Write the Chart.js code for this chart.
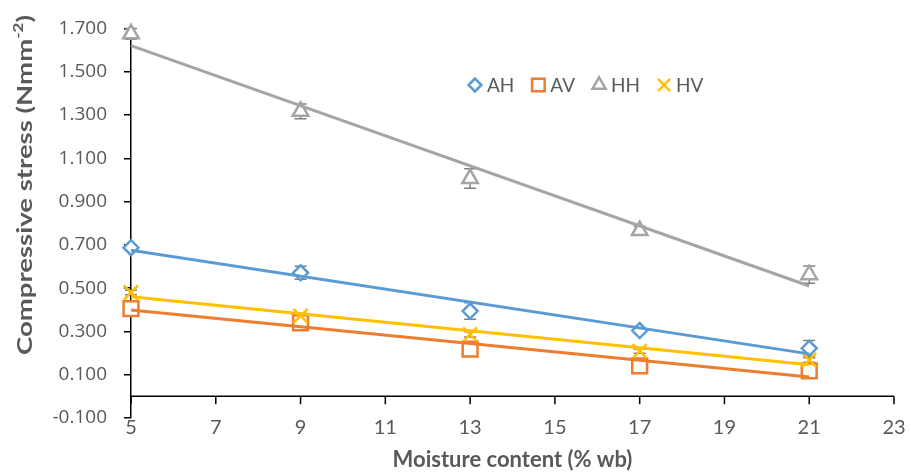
<!DOCTYPE html>
<html>
<head>
<meta charset="utf-8">
<script src="https://cdn.jsdelivr.net/npm/chart.js@4.4.1/dist/chart.umd.min.js"></script>
<style>
  html, body { margin: 0; padding: 0; background: #ffffff; }
  #wrap { width: 911px; height: 472px; }
</style>
</head>
<body>
<div id="wrap"><canvas id="chart" width="911" height="472"></canvas></div>
<script>
// Moisture content levels (% wb)
const moisture = [5, 9, 13, 17, 21];

// Mean compressive stress (N mm^-2) for each loading case
const AH = [0.687, 0.571, 0.394, 0.304, 0.222];
const AV = [0.405, 0.340, 0.218, 0.141, 0.118];
const HH = [1.675, 1.317, 1.006, 0.766, 0.562];
const HV = [0.480, 0.372, 0.286, 0.209, 0.168];

// Standard error of each mean
const AH_err = [0.010, 0.030, 0.038, 0.012, 0.036];
const AV_err = [0.010, 0.012, 0.015, 0.010, 0.010];
const HH_err = [0.025, 0.034, 0.045, 0.020, 0.040];
const HV_err = [0.010, 0.012, 0.012, 0.010, 0.010];

// Axis tick values
const xTickValues = [5, 7, 9, 11, 13, 15, 17, 19, 21, 23];
const yTickValues = [-0.1, 0.1, 0.3, 0.5, 0.7, 0.9, 1.1, 1.3, 1.5, 1.7];

const xTitle = 'Moisture content (% wb)';
const yTitleMain = 'Compressive stress (Nmm';
const yTitleSup = '-2';
const yTitleEnd = ')';

const TEXT = '#595959';
const FONT = "Lato, 'Open Sans', 'Noto Sans', sans-serif";

const series = [
  { name: 'AH', values: AH, err: AH_err, color: '#5B9BD5', style: 'rectRot', radius: 7.5 },
  { name: 'AV', values: AV, err: AV_err, color: '#ED7D31', style: 'rect', radius: 10.5 },
  { name: 'HH', values: HH, err: HH_err, color: '#A5A5A5', style: 'triangle', radius: 9 },
  { name: 'HV', values: HV, err: HV_err, color: '#FFC000', style: 'crossRot', radius: 10 }
];

// Least-squares straight line through a series
function linearFit(xs, ys) {
  const n = xs.length;
  const mx = xs.reduce((a, b) => a + b, 0) / n;
  const my = ys.reduce((a, b) => a + b, 0) / n;
  let sxy = 0, sxx = 0;
  for (let i = 0; i < n; i++) {
    sxy += (xs[i] - mx) * (ys[i] - my);
    sxx += (xs[i] - mx) * (xs[i] - mx);
  }
  const slope = sxy / sxx;
  return x => my + slope * (x - mx);
}

const datasets = [];
series.forEach((s, i) => {
  datasets.push({
    type: 'scatter',
    label: s.name,
    data: moisture.map((x, j) => ({ x: x, y: s.values[j] })),
    pointStyle: s.style,
    pointRadius: s.radius,
    pointHoverRadius: s.radius,
    pointBorderWidth: 2.5,
    pointBorderColor: s.color,
    pointBackgroundColor: s.style === 'crossRot' ? s.color : '#ffffff',
    borderColor: s.color,
    backgroundColor: s.color,
    showLine: false,
    clip: false,
    order: 10 - i
  });
});
series.forEach((s, i) => {
  const f = linearFit(moisture, s.values);
  const x0 = moisture[0], x1 = moisture[moisture.length - 1];
  datasets.push({
    type: 'line',
    label: s.name + ' trend',
    data: [{ x: x0, y: f(x0) }, { x: x1, y: f(x1) }],
    borderColor: s.color,
    borderWidth: 3,
    pointRadius: 0,
    fill: false,
    clip: false,
    order: 4 - i
  });
});

// Error bars beneath the markers
const errorBars = {
  id: 'errorBars',
  beforeDatasetsDraw(chart) {
    const { ctx, scales: { x, y } } = chart;
    ctx.save();
    ctx.strokeStyle = '#7F7F7F';
    ctx.lineWidth = 1.5;
    series.forEach(s => {
      moisture.forEach((mx, j) => {
        const px = x.getPixelForValue(mx);
        const top = y.getPixelForValue(s.values[j] + s.err[j]);
        const bot = y.getPixelForValue(s.values[j] - s.err[j]);
        ctx.beginPath();
        ctx.moveTo(px, top); ctx.lineTo(px, bot);
        ctx.moveTo(px - 6, top); ctx.lineTo(px + 6, top);
        ctx.moveTo(px - 6, bot); ctx.lineTo(px + 6, bot);
        ctx.stroke();
      });
    });
    ctx.restore();
  }
};

// Horizontal axis line crossing at zero, with downward tick marks
const zeroAxis = {
  id: 'zeroAxis',
  beforeDatasetsDraw(chart) {
    const { ctx, chartArea, scales: { x, y } } = chart;
    const y0 = y.getPixelForValue(0);
    ctx.save();
    ctx.strokeStyle = '#000000';
    ctx.lineWidth = 1.5;
    ctx.beginPath();
    ctx.moveTo(chartArea.left, y0);
    ctx.lineTo(chartArea.right, y0);
    xTickValues.forEach(v => {
      const px = x.getPixelForValue(v);
      ctx.moveTo(px, y0);
      ctx.lineTo(px, y0 + 8);
    });
    ctx.stroke();
    ctx.restore();
  }
};

// Legend row inside the plot
const markerLegend = {
  id: 'markerLegend',
  afterDraw(chart) {
    const ctx = chart.ctx;
    ctx.save();
    ctx.font = '19px ' + FONT;
    ctx.textBaseline = 'middle';
    ctx.textAlign = 'left';
    let cx = 475;
    const cy = 85;
    series.forEach(s => {
      ctx.strokeStyle = s.color;
      ctx.fillStyle = s.style === 'crossRot' ? s.color : '#ffffff';
      ctx.lineWidth = 2.5;
      Chart.helpers.drawPoint(ctx, {
        pointStyle: s.style,
        radius: s.radius * 0.85,
        rotation: 0,
        borderWidth: 2.5
      }, cx, cy);
      ctx.fillStyle = TEXT;
      const tx = cx + 12;
      ctx.fillText(s.name, tx, cy + 1);
      cx = tx + ctx.measureText(s.name).width + 24;
    });
    ctx.restore();
  }
};

// Rotated vertical axis title with superscript unit, spread along the plot height
const yAxisTitle = {
  id: 'yAxisTitle',
  afterDraw(chart) {
    const ctx = chart.ctx;
    ctx.save();
    ctx.fillStyle = TEXT;
    ctx.textBaseline = 'middle';
    ctx.textAlign = 'left';
    const mainFont = 'bold 21px ' + FONT;
    const supFont = 'bold 13px ' + FONT;
    ctx.font = mainFont;
    const w1 = ctx.measureText(yTitleMain).width;
    const w3 = ctx.measureText(yTitleEnd).width;
    ctx.font = supFont;
    const w2 = ctx.measureText(yTitleSup).width;
    const total = w1 + w2 + w3;
    const stretch = 340 / total;
    ctx.translate(25, 185);
    ctx.rotate(-Math.PI / 2);
    ctx.scale(stretch, 1);
    const start = -total / 2;
    ctx.font = mainFont;
    ctx.fillText(yTitleMain, start, 0);
    ctx.font = supFont;
    ctx.fillText(yTitleSup, start + w1, -6);
    ctx.font = mainFont;
    ctx.fillText(yTitleEnd, start + w1 + w2, 0);
    ctx.restore();
  }
};

new Chart(document.getElementById('chart'), {
  data: { datasets: datasets },
  options: {
    responsive: false,
    devicePixelRatio: 1,
    animation: false,
    layout: { padding: { top: 21, right: 17, bottom: 0, left: 0 } },
    plugins: {
      legend: { display: false },
      tooltip: { enabled: false }
    },
    scales: {
      x: {
        type: 'linear',
        position: 'bottom',
        min: 5,
        max: 23,
        afterBuildTicks: scale => { scale.ticks = xTickValues.map(v => ({ value: v })); },
        afterFit: scale => { scale.height = 54; },
        grid: { display: false, drawTicks: false },
        border: { display: false },
        ticks: {
          color: TEXT,
          padding: 0,
          font: { family: "'Liberation Sans Narrow', " + FONT, size: 20, lineHeight: 1 },
          callback: v => String(v)
        },
        title: {
          display: true,
          text: xTitle,
          color: TEXT,
          padding: { top: 0, bottom: 0 },
          font: { family: FONT, size: 22, weight: 'bold', lineHeight: 1.1 }
        }
      },
      y: {
        type: 'linear',
        position: 'left',
        min: -0.1,
        max: 1.7,
        afterBuildTicks: scale => { scale.ticks = yTickValues.map(v => ({ value: v })); },
        afterFit: scale => { scale.width = 131; },
        grid: {
          display: true,
          drawOnChartArea: false,
          drawTicks: true,
          tickLength: 7,
          color: '#000000',
          lineWidth: 1.5
        },
        border: { display: true, color: '#000000', width: 1.5 },
        ticks: {
          color: TEXT,
          padding: 17,
          font: { family: "'Open Sans', Lato, sans-serif", size: 19 },
          callback: v => Number(v).toFixed(3)
        }
      }
    }
  },
  plugins: [errorBars, zeroAxis, markerLegend, yAxisTitle]
});
</script>
</body>
</html>
